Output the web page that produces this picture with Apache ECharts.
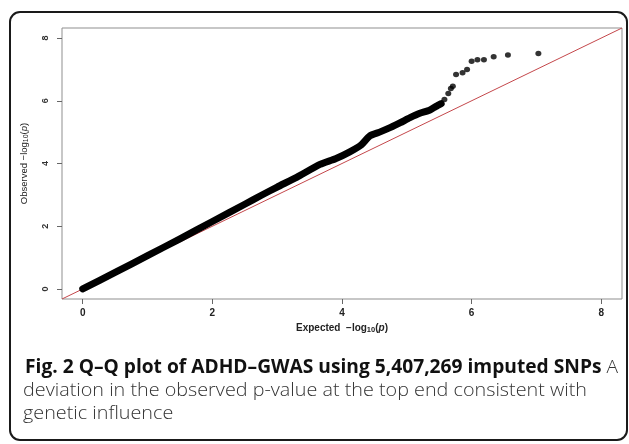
<!DOCTYPE html>
<html>
<head>
<meta charset="utf-8">
<script src="https://cdn.jsdelivr.net/npm/echarts@6/dist/echarts.min.js"></script>
<style>
html,body{margin:0;padding:0;background:#fff;}
#chart{width:629px;height:444px;}
</style>
</head>
<body>
<div id="chart"></div>
<script>
// ---- data ----
const xTicks = [0, 2, 4, 6, 8];
const yTicks = [0, 2, 4, 6, 8];
const axisRange = [-0.32, 8.32];
// dense band of overlapping points (expected, observed)
const bandX = [0, 0.5, 1.0, 1.5, 2.0, 2.5, 2.75, 3.0, 3.3, 3.66, 3.9, 4.12, 4.3, 4.43, 4.58, 4.75, 4.9, 5.05, 5.2, 5.35, 5.45, 5.53];
const bandY = [0, 0.53, 1.06, 1.6, 2.15, 2.7, 2.98, 3.25, 3.56, 3.97, 4.15, 4.37, 4.6, 4.88, 5.0, 5.15, 5.3, 5.46, 5.6, 5.7, 5.82, 5.91];
// separated top-end points
const tailX = [5.58, 5.64, 5.68, 5.71, 5.76, 5.86, 5.93, 6.0, 6.09, 6.19, 6.34, 6.56, 7.03];
const tailY = [6.04, 6.23, 6.39, 6.46, 6.84, 6.89, 7.0, 7.26, 7.31, 7.31, 7.4, 7.46, 7.51];
// reference line y = x
const refX = [-0.32, 8.32];
const refY = [-0.32, 8.32];

const captionBold = 'Fig. 2 Q\u2013Q plot of ADHD\u2013GWAS using 5,407,269 imputed SNPs';
const captionRest1 = ' A';
const captionLine2 = 'deviation in the observed p-value at the top end consistent with';
const captionLine3 = 'genetic influence';

const zip = (a, b) => a.map((v, i) => [v, b[i]]);

// horizontal fit of caption (font substitute is wider than the original)
const cv = document.createElement('canvas').getContext('2d');
cv.font = 'bold 19px "Open Sans"';
const wB = cv.measureText(captionBold).width;
cv.font = '300 19px "Open Sans"';
const wR = cv.measureText(captionRest1).width;
const wL2 = cv.measureText(captionLine2).width;
const s1 = 593 / (wB + wR);
const s2 = 564 / wL2;

const chart = echarts.init(document.getElementById('chart'), null, {renderer: 'canvas'});
const nameRich = {
  s: {fontSize: 7, verticalAlign: 'bottom', padding: [4, 0, 0, 0]},
  i: {fontStyle: 'italic'}
};
chart.setOption({
  animation: false,
  backgroundColor: '#fff',
  grid: {left: 62, top: 28, right: 7, bottom: 145, show: true, borderColor: '#8f8f8f', borderWidth: 1},
  xAxis: {
    type: 'value', min: axisRange[0], max: axisRange[1],
    splitLine: {show: false},
    axisLine: {show: false, onZero: false},
    axisTick: {show: true, customValues: xTicks, length: 5, lineStyle: {color: '#666'}},
    axisLabel: {customValues: xTicks, margin: 9, fontFamily: 'Liberation Sans', fontWeight: 'bold', fontSize: 10, color: '#222'},
    name: 'Expected  \u2212log{s|10}({i|p})',
    nameLocation: 'middle', nameGap: 23,
    nameTextStyle: {fontFamily: 'Liberation Sans', fontWeight: 'bold', fontSize: 10, color: '#222',
      rich: {s: {fontSize: 7.5, fontWeight: 'bold', verticalAlign: 'bottom', padding: [4, 0, 0, 0]}, i: {fontStyle: 'italic', fontWeight: 'bold'}}}
  },
  yAxis: {
    type: 'value', min: axisRange[0], max: axisRange[1],
    splitLine: {show: false},
    axisLine: {show: false, onZero: false},
    axisTick: {show: true, customValues: yTicks, length: 5, lineStyle: {color: '#666'}},
    axisLabel: {customValues: yTicks, margin: 12, rotate: 90, fontFamily: 'Liberation Sans', fontWeight: 'bold', fontSize: 9, color: '#333'},
    name: 'Observed \u2212log{s|10}({i|p})',
    nameLocation: 'middle', nameGap: 32,
    nameTextStyle: {fontFamily: 'Liberation Sans', fontSize: 9.5, color: '#222', rich: nameRich}
  },
  series: [
    {type: 'line', data: zip(refX, refY), symbol: 'none', z: 1,
     lineStyle: {color: '#c4474b', width: 1}, silent: true},
    {type: 'line', data: zip(bandX, bandY), symbol: 'none', z: 2, smooth: 0.2,
     lineStyle: {color: '#000', width: 7, cap: 'round', join: 'round'}},
    {type: 'scatter', data: zip(tailX, tailY), symbol: 'circle', symbolSize: [6, 5.5], z: 3,
     itemStyle: {color: '#000'}}
  ],
  graphic: [
    {type: 'rect', shape: {x: 10, y: 12, width: 617, height: 428, r: 10},
     style: {fill: 'none', stroke: '#1a1a1a', lineWidth: 2}, z: 10},
    {type: 'text', x: 25, y: 368, scaleX: s1, z: 10,
     style: {text: '{b|' + captionBold + '}{r|' + captionRest1 + '}', verticalAlign: 'middle',
       rich: {
         b: {font: 'bold 19px "Open Sans"', fill: '#111'},
         r: {font: '300 19px "Open Sans"', fill: '#333'}
       }}},
    {type: 'text', x: 23, y: 391, scaleX: s2, z: 10,
     style: {text: captionLine2, font: '300 19px "Open Sans"', fill: '#333', verticalAlign: 'middle'}},
    {type: 'text', x: 23, y: 414, scaleX: s2, z: 10,
     style: {text: captionLine3, font: '300 19px "Open Sans"', fill: '#333', verticalAlign: 'middle'}}
  ]
});
</script>
</body>
</html>
